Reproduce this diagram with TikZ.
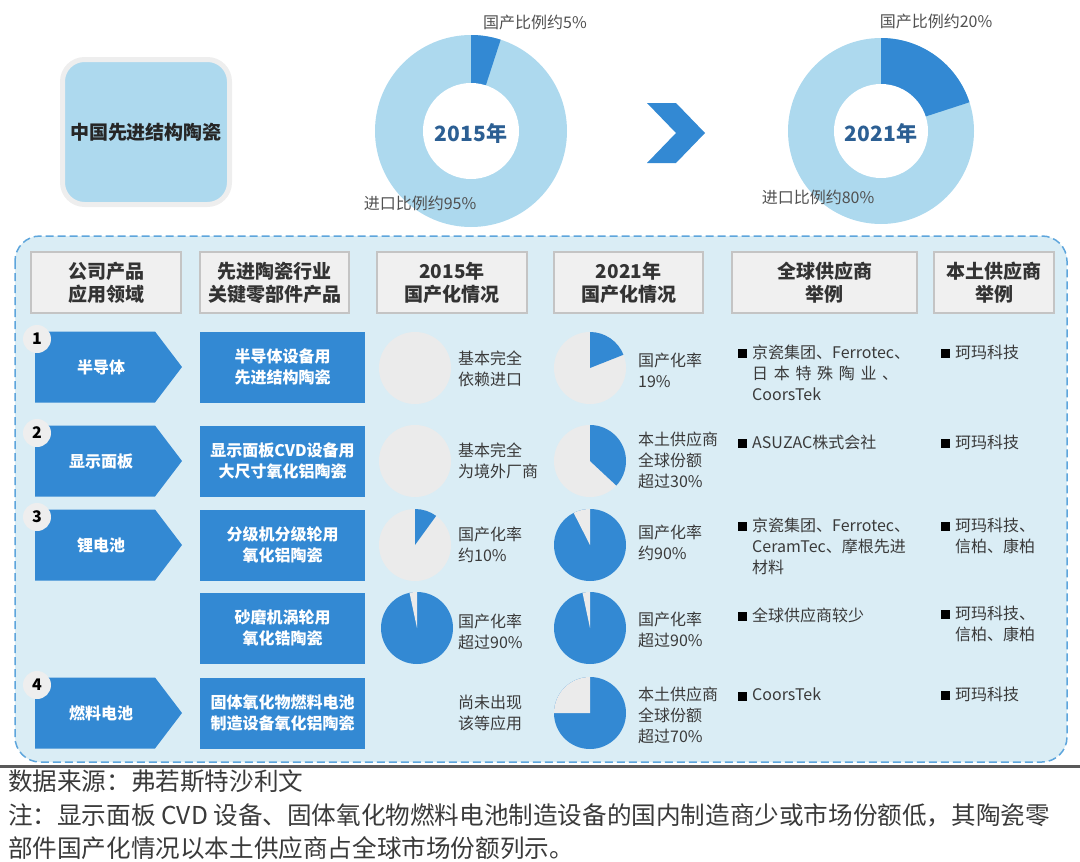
\documentclass[tikz,border=0pt]{standalone}
\usepackage{fontspec}
\setmainfont{Noto Sans CJK SC}
\usepackage{xcolor}
\usepackage{tikz}

\definecolor{dkblue}{HTML}{3389D3}
\definecolor{ltblue}{HTML}{ADD9EE}
\definecolor{bgblue}{HTML}{DAEDF5}
\definecolor{dashblue}{HTML}{5DA5DC}
\definecolor{hdrgray}{HTML}{F0F0F0}
\definecolor{hdrline}{HTML}{C4C4C4}
\definecolor{piegray}{HTML}{EBEBEB}
\definecolor{boxgray}{HTML}{EEEEEE}
\definecolor{txtgray}{HTML}{3A3A3A}
\definecolor{labgray}{HTML}{505050}
\definecolor{yrblue}{HTML}{2C5F93}

\tikzset{
  hdr/.style={draw=hdrline, fill=hdrgray, line width=1.5pt, minimum height=61pt, inner sep=0pt,
    align=center, text=black!80, font=\fontsize{19}{23}\selectfont\bfseries},
  prod/.style={fill=dkblue, minimum width=165pt, minimum height=71pt, inner sep=0pt,
    align=center, text=white, font=\fontsize{16}{21}\selectfont\bfseries},
  txt/.style={anchor=west, align=left, inner sep=0pt, text=txtgray, font=\fontsize{16}{21}\selectfont},
  suptxt/.style={anchor=north west, align=left, inner sep=0pt, text=txtgray, font=\fontsize{16}{21}\selectfont},
  lab/.style={inner sep=0pt, text=labgray, font=\fontsize{16}{20}\selectfont},
  yr/.style={inner sep=0pt, text=yrblue, font=\fontsize{21}{24}\selectfont\bfseries},
  num/.style={circle, fill=boxgray, minimum size=28pt, inner sep=0pt, font=\fontsize{16}{16}\selectfont\bfseries},
  bul/.style={fill=black, minimum size=9pt, inner sep=0pt},
}

\begin{document}
\begin{tikzpicture}[x=1pt,y=-1pt]
    \useasboundingbox (0,0) rectangle (1080,862);
    % define coordinates
    \coordinate (D15) at (471,131) ;
    \coordinate (D21) at (881,131) ;
    \coordinate (A1) at (415,368) ;
    \coordinate (A2) at (415,461) ;
    \coordinate (A3) at (415,545) ;
    \coordinate (A4) at (417,628) ;
    \coordinate (B1) at (590,368) ;
    \coordinate (B2) at (590,461) ;
    \coordinate (B3) at (590,545) ;
    \coordinate (B4) at (590,628) ;
    \coordinate (B5) at (590,713) ;
    % top: china box
    \node[draw=boxgray, line width=5pt, fill=ltblue, rounded corners=22pt, minimum width=167pt,
      minimum height=145pt, font=\fontsize{19}{23}\selectfont\bfseries, text=black!85] (cn) at (146,132) {中国先进结构陶瓷};
    % donut 2015
    \fill[ltblue] (D15) circle (96pt);
    \fill[dkblue] (D15) -- ++(90:96pt) arc[start angle=90, end angle=72, radius=96pt] -- cycle;
    \fill[white] (D15) circle (48pt);
    \node[yr] (y15) at (471,133) {2015年};
    \node[lab] (d15) at (535,22) {国产比例约5\%};
    \node[lab] (i15) at (420,203) {进口比例约95\%};
    % chevron
    \fill[dkblue] (647,103) -- (676,103) -- (705,133) -- (676,163) -- (647,163) -- (676,133) -- cycle;
    % donut 2021
    \fill[ltblue] (D21) circle (93pt);
    \fill[dkblue] (D21) -- ++(90:93pt) arc[start angle=90, end angle=18, radius=93pt] -- cycle;
    \fill[white] (D21) circle (47pt);
    \node[yr] (y21) at (881,133) {2021年};
    \node[lab] (d21) at (936,21) {国产比例约20\%};
    \node[lab] (i21) at (818,197) {进口比例约80\%};
    % table frame
    \draw[dashblue, fill=bgblue, line width=1.5pt, dash pattern=on 8pt off 4pt, rounded corners=25pt] (15,236) rectangle (1067,762);
    \draw[line width=3pt, black!65] (0,766.5) -- (1080,766.5);
    % headers
    \node[hdr, minimum width=150pt] (h1) at (106,282.5) {公司产品\\应用领域};
    \node[hdr, minimum width=149pt] (h2) at (274.5,282.5) {先进陶瓷行业\\关键零部件产品};
    \node[hdr, minimum width=150pt] (h3) at (452,282.5) {2015年\\国产化情况};
    \node[hdr, minimum width=149pt] (h4) at (628.5,282.5) {2021年\\国产化情况};
    \node[hdr, minimum width=185pt] (h5) at (824.5,282.5) {全球供应商\\举例};
    \node[hdr, minimum width=120pt] (h6) at (994,282.5) {本土供应商\\举例};
    % application arrows
    \foreach \y/\n/\t in {367/1/半导体, 461/2/显示面板, 545/3/锂电池, 713/4/燃料电池} {
        \fill[dkblue] (35,\y-35.5) -- (155,\y-35.5) -- (182,\y) -- (155,\y+35.5) -- (35,\y+35.5) -- cycle;
        \node[text=white, font=\fontsize{16}{16}\selectfont\bfseries] (app\n) at (101,\y) {\t};
        \node[num] (n\n) at (37,\y-28) {\n};
    }
    % products
    \node[prod] (p1) at (282.5,367) {半导体设备用\\先进结构陶瓷};
    \node[prod] (p2) at (282.5,461) {显示面板CVD设备用\\大尺寸氧化铝陶瓷};
    \node[prod] (p3) at (282.5,545) {分级机分级轮用\\氧化铝陶瓷};
    \node[prod] (p4) at (282.5,628) {砂磨机涡轮用\\氧化锆陶瓷};
    \node[prod] (p5) at (282.5,713) {固体氧化物燃料电池\\制造设备氧化铝陶瓷};
    % pies 2015
    \fill[piegray] (A1) circle (36pt);
    \fill[piegray] (A2) circle (36pt);
    \fill[piegray] (A3) circle (36pt);
    \fill[dkblue] (A3) -- ++(90:36pt) arc[start angle=90, end angle=54, radius=36pt] -- cycle;
    \fill[dkblue] (A4) circle (36pt);
    \fill[piegray] (A4) -- ++(90:36pt) arc[start angle=90, end angle=102, radius=36pt] -- cycle;
    \node[txt] (t1) at (458,369) {基本完全\\依赖进口};
    \node[txt] (t2) at (458,461) {基本完全\\为境外厂商};
    \node[txt] (t3) at (458,545) {国产化率\\约10\%};
    \node[txt] (t4) at (458,632) {国产化率\\超过90\%};
    \node[txt] (t5) at (458,713) {尚未出现\\该等应用};
    % pies 2021
    \fill[piegray] (B1) circle (36pt);
    \fill[dkblue] (B1) -- ++(90:36pt) arc[start angle=90, end angle=21.6, radius=36pt] -- cycle;
    \fill[piegray] (B2) circle (36pt);
    \fill[dkblue] (B2) -- ++(90:36pt) arc[start angle=90, end angle=-43, radius=36pt] -- cycle;
    \fill[dkblue] (B3) circle (36pt);
    \fill[piegray] (B3) -- ++(90:36pt) arc[start angle=90, end angle=117, radius=36pt] -- cycle;
    \fill[dkblue] (B4) circle (36pt);
    \fill[piegray] (B4) -- ++(90:36pt) arc[start angle=90, end angle=102, radius=36pt] -- cycle;
    \fill[dkblue] (B5) circle (36pt);
    \fill[piegray] (B5) -- ++(90:36pt) arc[start angle=90, end angle=180, radius=36pt] -- cycle;
    \node[txt] (u1) at (638,370) {国产化率\\19\%};
    \node[txt] (u2) at (638,460) {本土供应商\\全球份额\\超过30\%};
    \node[txt] (u3) at (638,543) {国产化率\\约90\%};
    \node[txt] (u4) at (638,630) {国产化率\\超过90\%};
    \node[txt] (u5) at (638,715) {本土供应商\\全球份额\\超过70\%};
    % global suppliers
    \foreach \y/\n in {353/1, 443/2, 526/3, 616/4, 696/5} {
        \node[bul] (g\n) at (742,\y) {};
    }
    \node[suptxt] (s1) at (752,345) {京瓷集团、Ferrotec、\\\makebox[146pt][s]{日 本 特 殊 陶 业 、}\\CoorsTek};
    \node[suptxt] (s2) at (752,435) {ASUZAC株式会社};
    \node[suptxt] (s3) at (752,518) {京瓷集团、Ferrotec、\\CeramTec、摩根先进\\材料};
    \node[suptxt] (s4) at (752,608) {全球供应商较少};
    \node[suptxt] (s5) at (752,688) {CoorsTek};
    % local suppliers
    \foreach \y/\n in {353/1, 443/2, 526/3, 614/4, 695/5} {
        \node[bul] (l\n) at (945,\y) {};
    }
    \node[suptxt] (k1) at (955,345) {珂玛科技};
    \node[suptxt] (k2) at (955,435) {珂玛科技};
    \node[suptxt] (k3) at (955,518) {珂玛科技、\\信柏、康柏};
    \node[suptxt] (k4) at (955,606) {珂玛科技、\\信柏、康柏};
    \node[suptxt] (k5) at (955,687) {珂玛科技};
    % source and note
    \node[anchor=west, inner sep=0pt, text=txtgray, font=\fontsize{24.6}{33}\selectfont] (src) at (8,781) {数据来源：弗若斯特沙利文};
    \node[anchor=west, align=left, inner sep=0pt, text=txtgray, font=\fontsize{24.6}{33}\selectfont] (note) at (8,832)
      {注：显示面板 CVD 设备、固体氧化物燃料电池制造设备的国内制造商少或市场份额低，其陶瓷零\\部件国产化情况以本土供应商占全球市场份额列示。};
\end{tikzpicture}
\end{document}
